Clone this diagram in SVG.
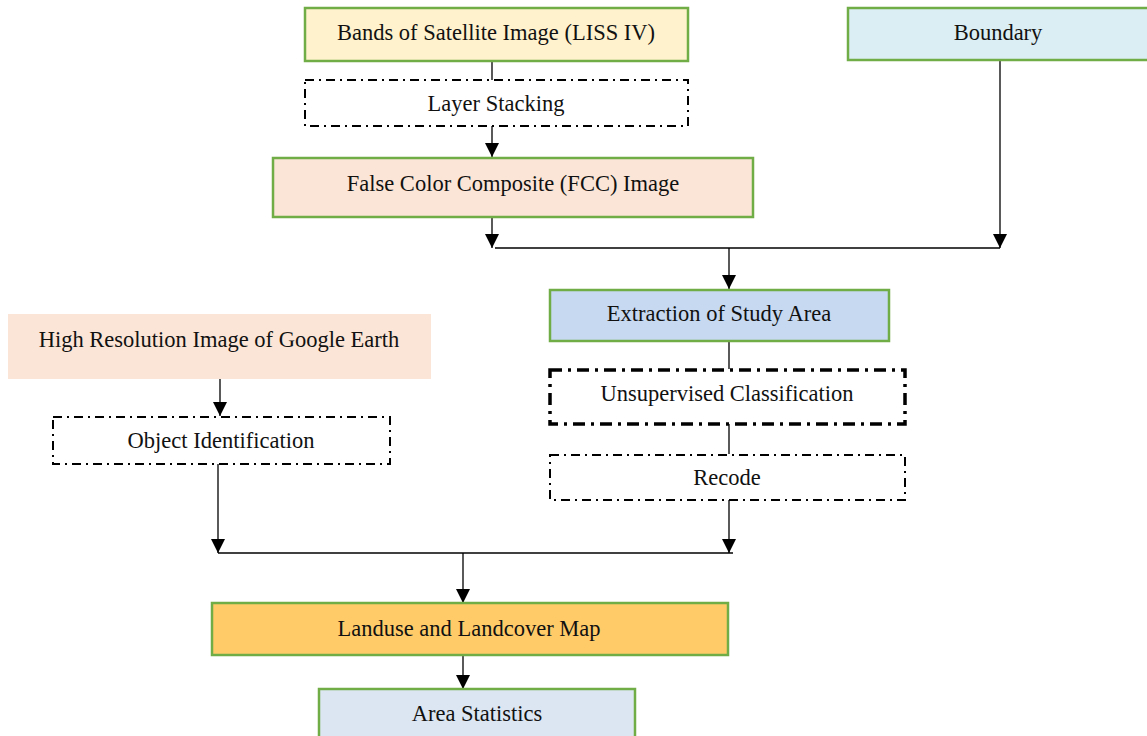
<svg xmlns="http://www.w3.org/2000/svg" width="1147" height="736" viewBox="0 0 1147 736">
<defs>
<marker id="arr" viewBox="0 0 10 10" refX="10" refY="5" markerWidth="14" markerHeight="14" markerUnits="userSpaceOnUse" orient="auto">
<path d="M0,0 L10,5 L0,10 Z" fill="#000"/>
</marker>
<style>
.t{font-family:"Liberation Serif","Times New Roman",serif;font-size:22.5px;fill:#111;text-anchor:middle;dominant-baseline:central}
.g{stroke:#70AD47;stroke-width:2.5}
.d{fill:#fff;stroke:#000;stroke-width:2;stroke-dasharray:9 5 2 5}
.dk{fill:#fff;stroke:#000;stroke-width:3.5;stroke-dasharray:12 6 3 6}
.c{stroke:#000;stroke-width:1.3;fill:none}
.ca{stroke:#000;stroke-width:1.3;fill:none;marker-end:url(#arr)}
</style>
</defs>
<rect width="1147" height="736" fill="#fff"/>
<g id="connectors">
<line class="c" x1="492" y1="61" x2="492" y2="80"/>
<line class="ca" x1="492" y1="126" x2="492" y2="157"/>
<line class="ca" x1="492" y1="217" x2="492" y2="248"/>
<line class="ca" x1="1000" y1="60" x2="1000" y2="248"/>
<line class="c" x1="495" y1="248" x2="1000" y2="248"/>
<line class="ca" x1="729" y1="248" x2="729" y2="289"/>
<line class="c" x1="729" y1="341" x2="729" y2="369"/>
<line class="c" x1="729" y1="424" x2="729" y2="454"/>
<line class="ca" x1="729" y1="500" x2="729" y2="553"/>
<line class="ca" x1="220" y1="379" x2="220" y2="416"/>
<line class="ca" x1="218" y1="464" x2="218" y2="553"/>
<line class="c" x1="218" y1="553" x2="733" y2="553"/>
<line class="ca" x1="463" y1="553" x2="463" y2="603"/>
<line class="ca" x1="463" y1="655" x2="463" y2="689"/>
</g>
<g id="bands"><rect class="g" x="305" y="8" width="383" height="53" fill="#FFF2CC"/><text class="t" x="496" y="32">Bands of Satellite Image (LISS IV)</text></g>
<g id="boundary"><rect class="g" x="848" y="8" width="305" height="52" fill="#DAEEF3"/><text class="t" x="998" y="32">Boundary</text></g>
<g id="layer"><rect class="d" x="305" y="80" width="383" height="46"/><text class="t" x="496" y="103">Layer Stacking</text></g>
<g id="fcc"><rect class="g" x="273" y="158" width="480" height="59" fill="#FBE5D6"/><text class="t" x="513" y="183">False Color Composite (FCC) Image</text></g>
<g id="extraction"><rect class="g" x="550" y="290" width="339" height="51" fill="#C6D9F1"/><text class="t" x="719" y="313">Extraction of Study Area</text></g>
<g id="highres"><rect x="8" y="314" width="423" height="65" fill="#FBE5D6"/><text class="t" x="219" y="339">High Resolution Image of Google Earth</text></g>
<g id="unsup"><rect class="dk" x="550" y="370" width="355" height="54"/><text class="t" x="727" y="393">Unsupervised Classification</text></g>
<g id="objid"><rect class="d" x="53" y="417" width="337" height="47"/><text class="t" x="221" y="440">Object Identification</text></g>
<g id="recode"><rect class="d" x="550" y="455" width="355" height="45"/><text class="t" x="727" y="477">Recode</text></g>
<g id="landuse"><rect class="g" x="212" y="603" width="516" height="52" fill="#FFCB69"/><text class="t" x="469" y="628">Landuse and Landcover Map</text></g>
<g id="area"><rect class="g" x="319" y="689" width="316" height="52" fill="#DCE6F2"/><text class="t" x="477" y="713">Area Statistics</text></g>
</svg>
